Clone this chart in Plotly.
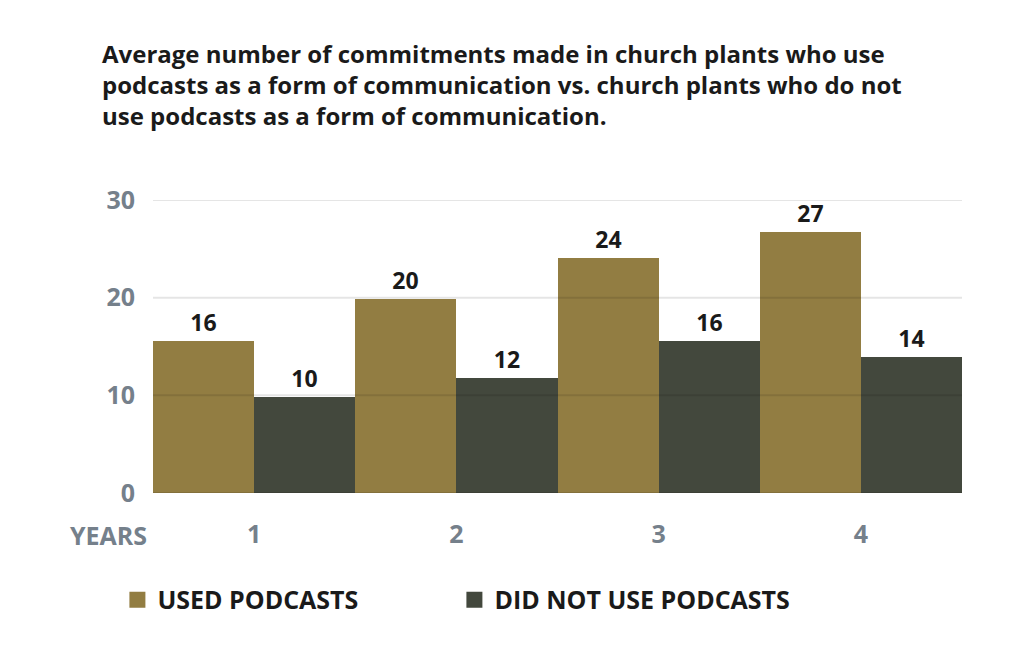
import plotly.graph_objects as go

years = ["1", "2", "3", "4"]
used_podcasts = [15.6, 19.9, 24.1, 26.7]
did_not_use = [9.8, 11.8, 15.6, 13.9]
y_ticks = [0, 10, 20, 30]
series_names = ["USED PODCASTS", "DID NOT USE PODCASTS"]

title_text = ("Average number of commitments made in church plants who use<br>"
              "podcasts as a form of communication vs. church plants who do not<br>"
              "use podcasts as a form of communication.")

FONT = "Open Sans"
GOLD = "#927D42"
DARK = "#43483D"
GRAY = "#75808B"
INK = "#1a1a1a"

fig = go.Figure()
for vals, color in [(used_podcasts, GOLD), (did_not_use, DARK)]:
    fig.add_trace(go.Bar(
        x=years, y=vals, showlegend=False,
        marker=dict(color=color, line=dict(width=0)),
        texttemplate="%{y:.0f}", textposition="outside",
        textfont=dict(family=FONT, size=23, color=INK, weight="bold"),
        cliponaxis=False,
    ))
# legend entries with larger square symbols
for name, color in zip(series_names, [GOLD, DARK]):
    fig.add_trace(go.Scatter(
        x=[None], y=[None], mode="markers", name=name,
        marker=dict(symbol="square", size=18, color=color),
    ))

fig.update_layout(
    width=1008, height=635,
    paper_bgcolor="white", plot_bgcolor="white",
    barmode="group", bargap=0, bargroupgap=0,
    margin=dict(l=145, r=54, t=192, b=150),
    font=dict(family=FONT, color=INK),
    showlegend=True,
    legend=dict(
        orientation="h", x=-0.044, xanchor="left", y=-0.365, yanchor="middle",
        font=dict(family=FONT, size=25, color=INK, weight="bold"),
        entrywidth=292, entrywidthmode="pixels",
        traceorder="normal",
    ),
)

fig.update_yaxes(
    range=[0, 30], tickvals=y_ticks, showgrid=False, zeroline=False,
    showline=False, ticks="", ticklabelstandoff=17,
    tickfont=dict(family=FONT, size=25, color=GRAY, weight="bold"),
    fixedrange=True,
)
fig.update_xaxes(
    showgrid=False, showline=False, ticks="", ticklabelstandoff=24,
    tickfont=dict(family=FONT, size=25, color=GRAY, weight="bold"),
    fixedrange=True,
)

# gridlines drawn over the bars, as in the reference
for t in y_ticks:
    fig.add_shape(type="line", xref="paper", yref="y", x0=0, x1=1, y0=t, y1=t,
                  line=dict(color="rgba(0,0,0,0.10)", width=2), layer="above")

fig.add_annotation(
    text=title_text, xref="paper", yref="paper", x=-0.0655, y=1.562,
    xanchor="left", yanchor="top", align="left", showarrow=False,
    font=dict(family=FONT, size=24, color=INK, weight="bold"),
)
fig.add_annotation(
    text="YEARS", xref="paper", yref="paper", x=-0.105, y=-0.143,
    xanchor="left", yanchor="middle", showarrow=False,
    font=dict(family=FONT, size=25, color=GRAY, weight="bold"),
)

fig.write_html("out.html")
